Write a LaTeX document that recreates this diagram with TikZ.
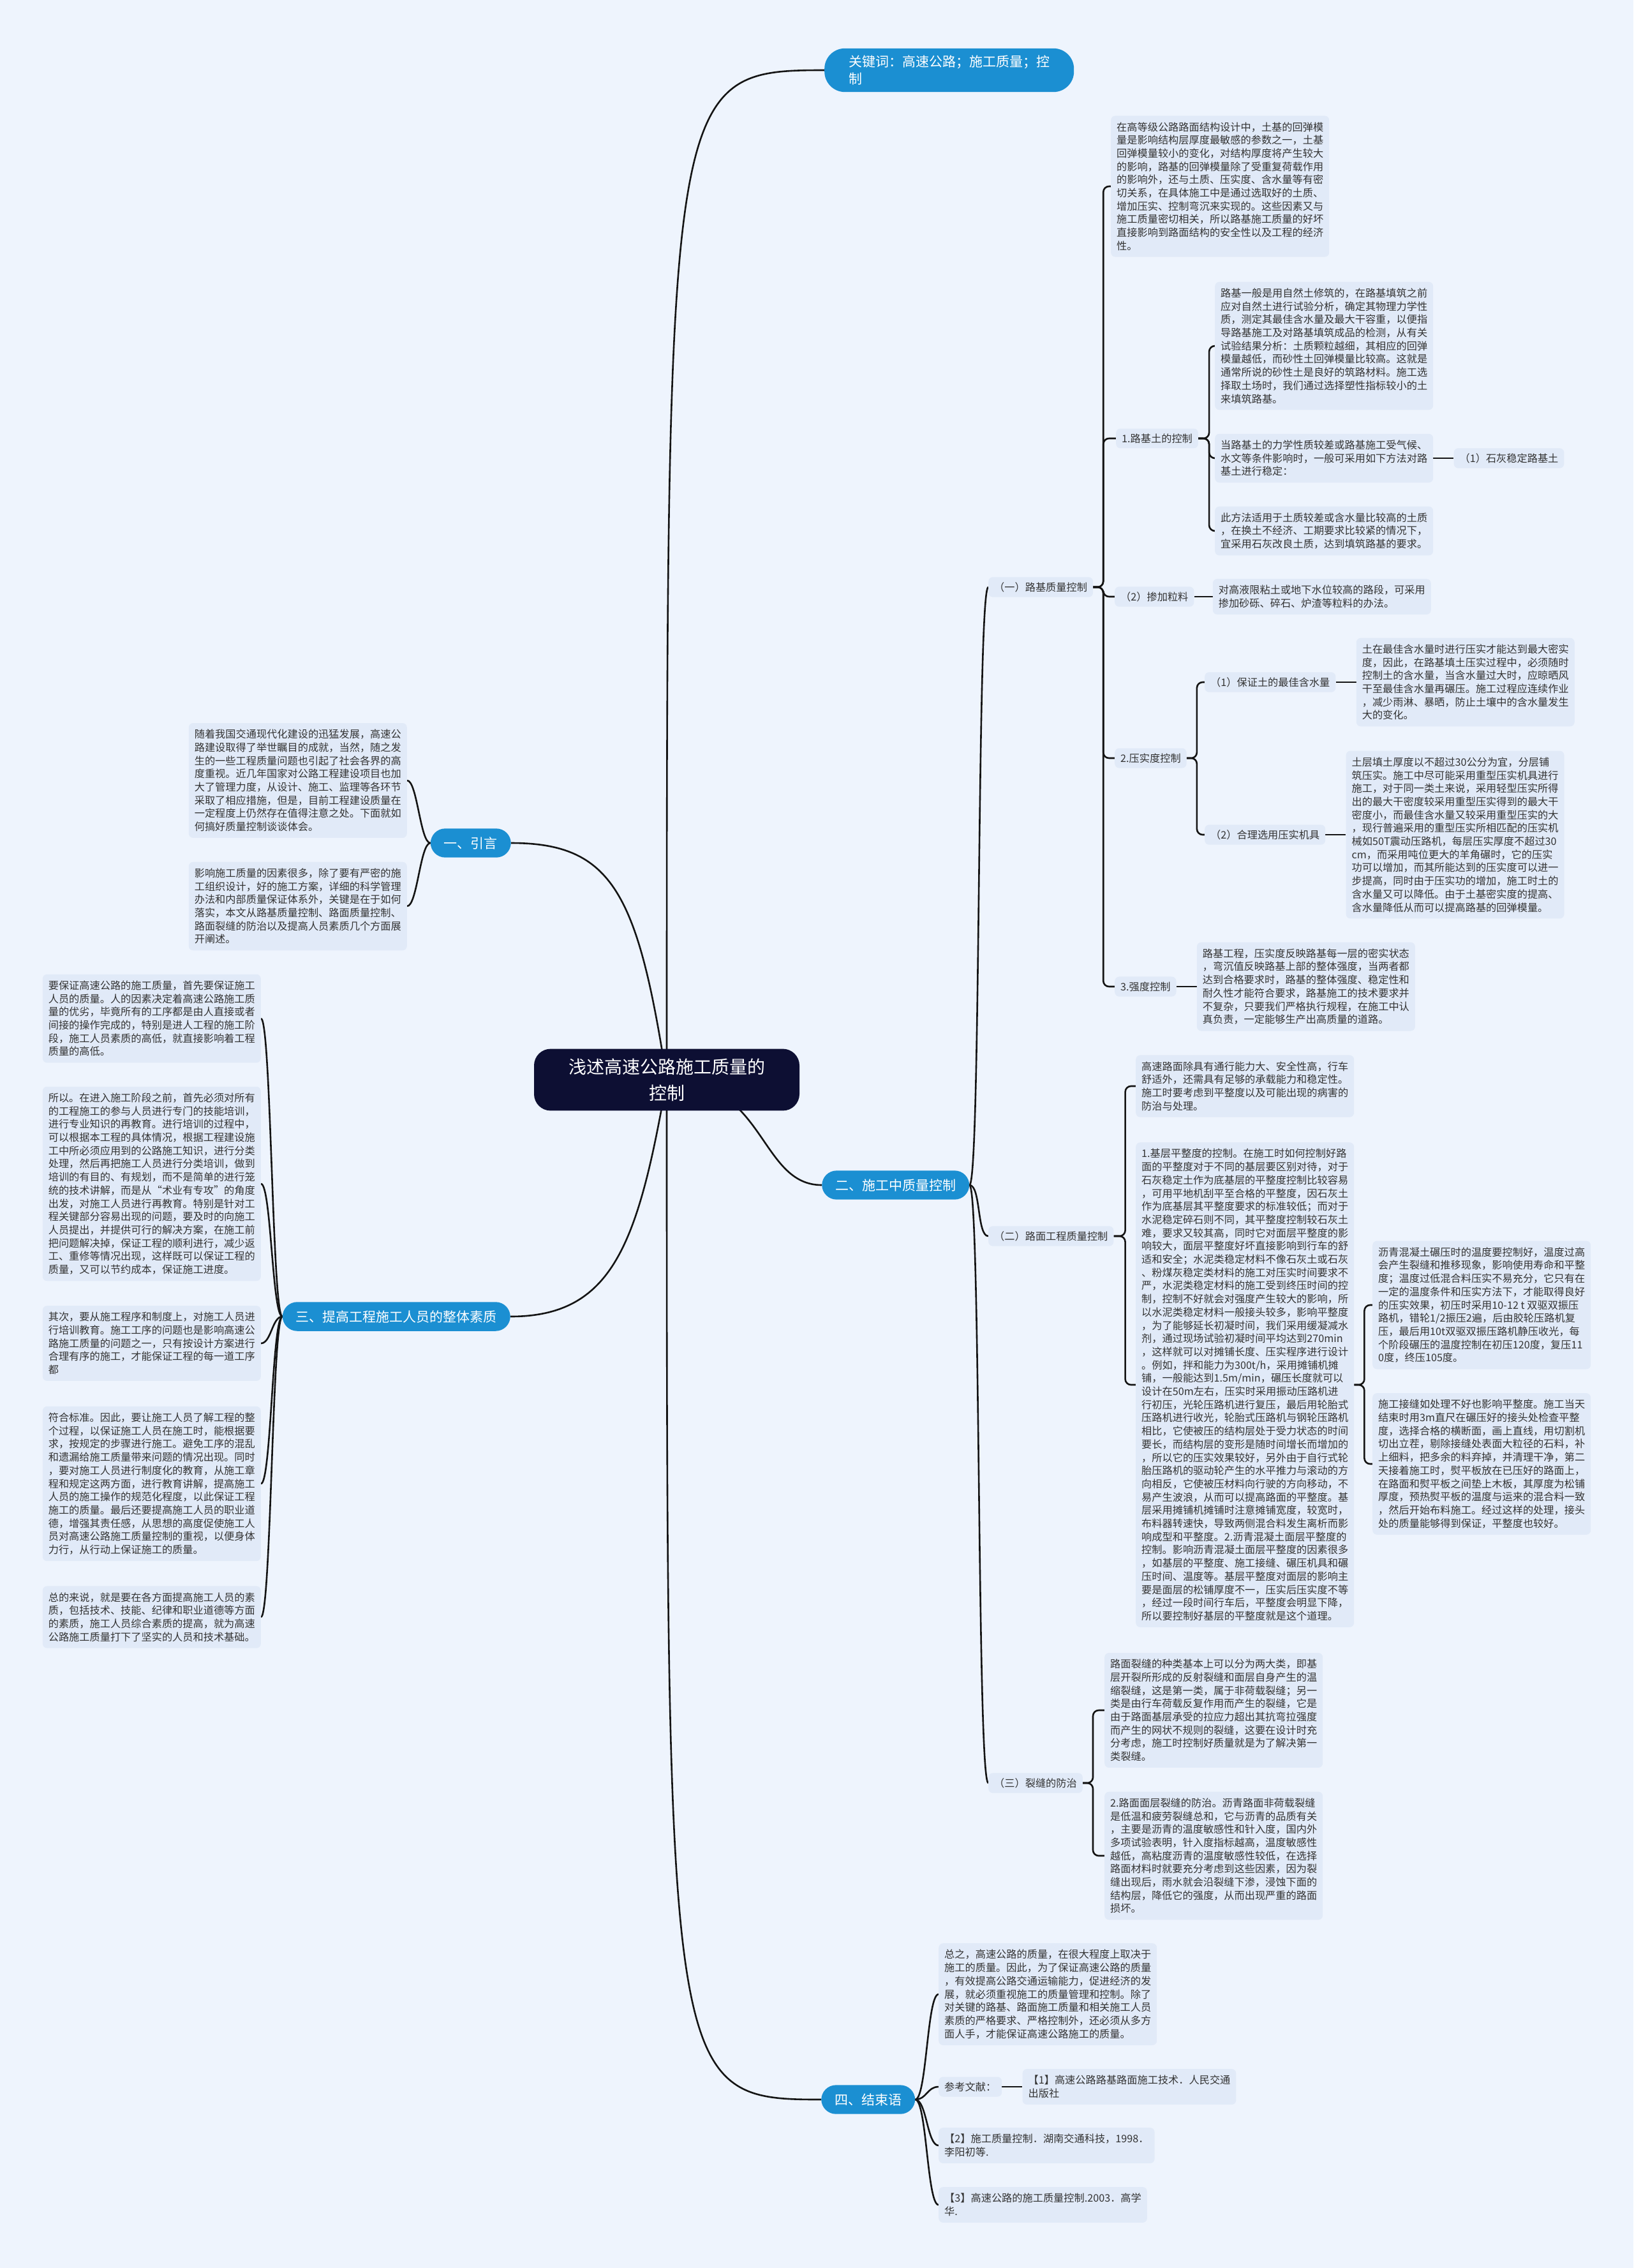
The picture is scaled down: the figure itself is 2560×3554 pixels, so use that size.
\documentclass[tikz,border=0pt]{standalone}
\usepackage{fontspec}
\setmainfont{Noto Sans CJK SC}
\usepackage{tikz}
\usetikzlibrary{positioning,calc,backgrounds}
\definecolor{paper}{HTML}{EEF4FD}
\definecolor{card}{HTML}{E1EAF8}
\definecolor{sky}{HTML}{1B8FD2}
\definecolor{navy}{HTML}{0D0F33}
\definecolor{ink}{HTML}{333333}
\definecolor{coal}{HTML}{141414}
\newcommand\cardsize{\fontsize{16.2}{20.7}\selectfont}
\newcommand\pillsize{\fontsize{21}{27}\selectfont}
\newcommand\hubsize{\fontsize{28}{41}\selectfont}
\tikzset{
  card/.style={fill=card,rounded corners=7pt,inner xsep=9pt,inner ysep=10pt,align=left,text=ink,font=\cardsize},
  tag/.style={card,inner ysep=8pt},
  pill/.style={fill=sky,text=white,rounded corners=23pt,inner xsep=21pt,inner ysep=13pt,align=left,font=\pillsize},
  hub/.style={fill=navy,text=white,rounded corners=26pt,inner xsep=54pt,inner ysep=15pt,align=center,font=\hubsize},
  wire/.style={draw=coal,line width=2.6pt},
  elbow/.style={wire,rounded corners=9pt},
  branch/.style={to path={.. controls +(18,0) and +(-18,0) .. (\tikztotarget)}},
  lbranch/.style={to path={.. controls +(-16,0) and +(16,0) .. (\tikztotarget)}},
}

\begin{document}
\begin{tikzpicture}[x=1pt,y=-1pt,node distance=32pt]
  \useasboundingbox (0,0) rectangle (2560,3554);

  % centre and main branches
  \node[hub] (root) at (1045,1692) {浅述高速公路施工质量的\\控制};
  \node[pill,anchor=west,inner xsep=38pt,inner ysep=11pt,rounded corners=32pt] (kw) at (1292,110) {关键词：高速公路；施工质量；控\\制};
  \node[pill,anchor=west] (n2) at (1288,1857) {二、施工中质量控制};
  \node[pill,anchor=west] (n4) at (1287,3290) {四、结束语};
  \node[pill,anchor=east] (n1) at (801,1321) {一、引言};
  \node[pill,anchor=east] (n3) at (800,2063) {三、提高工程施工人员的整体素质};

  % (一) 路基质量控制
  \node[tag,anchor=west] (s1) at (1549,920) {（一）路基质量控制};
  \node[card,anchor=west] (p1) at (1741,292) {在高等级公路路面结构设计中，土基的回弹模\\量是影响结构层厚度最敏感的参数之一，土基\\回弹模量较小的变化，对结构厚度将产生较大\\的影响，路基的回弹模量除了受重复荷载作用\\的影响外，还与土质、压实度、含水量等有密\\切关系，在具体施工中是通过选取好的土质、\\增加压实、控制弯沉来实现的。这些因素又与\\施工质量密切相关，所以路基施工质量的好坏\\直接影响到路面结构的安全性以及工程的经济\\性。};
  \node[tag,anchor=west] (t1) at (1749,687) {1.路基土的控制};
  \node[card,anchor=west] (p2) at (1904,542) {路基一般是用自然土修筑的，在路基填筑之前\\应对自然土进行试验分析，确定其物理力学性\\质，测定其最佳含水量及最大干容重，以便指\\导路基施工及对路基填筑成品的检测，从有关\\试验结果分析：土质颗粒越细，其相应的回弹\\模量越低，而砂性土回弹模量比较高。这就是\\通常所说的砂性土是良好的筑路材料。施工选\\择取土场时，我们通过选择塑性指标较小的土\\来填筑路基。};
  \node[card,anchor=west] (p3) at (1904,718) {当路基土的力学性质较差或路基施工受气候、\\水文等条件影响时，一般可采用如下方法对路\\基土进行稳定：};
  \node[tag,right=of p3] (q1) {（1）石灰稳定路基土};
  \node[card,anchor=west] (p4) at (1904,832) {此方法适用于土质较差或含水量比较高的土质\\，在换土不经济、工期要求比较紧的情况下，\\宜采用石灰改良土质，达到填筑路基的要求。};
  \node[tag,anchor=west] (t2) at (1747,935) {（2）掺加粒料};
  \node[card,right=29pt of t2] (p5) {对高液限粘土或地下水位较高的路段，可采用\\掺加砂砾、碎石、炉渣等粒料的办法。};
  \node[tag,anchor=west] (t3) at (1747,1188) {2.压实度控制};
  \node[tag,anchor=west] (u1) at (1888,1069) {（1）保证土的最佳含水量};
  \node[card,right=of u1] (p6) {土在最佳含水量时进行压实才能达到最大密实\\度，因此，在路基填土压实过程中，必须随时\\控制土的含水量，当含水量过大时，应晾晒风\\干至最佳含水量再碾压。施工过程应连续作业\\，减少雨淋、暴晒，防止土壤中的含水量发生\\大的变化。};
  \node[tag,anchor=west] (u2) at (1888,1308) {（2）合理选用压实机具};
  \node[card,right=of u2] (p7) {土层填土厚度以不超过30公分为宜，分层铺\\筑压实。施工中尽可能采用重型压实机具进行\\施工，对于同一类土来说，采用轻型压实所得\\出的最大干密度较采用重型压实得到的最大干\\密度小，而最佳含水量又较采用重型压实的大\\，现行普遍采用的重型压实所相匹配的压实机\\械如50T震动压路机，每层压实厚度不超过30\\cm，而采用吨位更大的羊角碾时，它的压实\\功可以增加，而其所能达到的压实度可以进一\\步提高，同时由于压实功的增加，施工时土的\\含水量又可以降低。由于土基密实度的提高、\\含水量降低从而可以提高路基的回弹模量。};
  \node[tag,anchor=west] (t4) at (1747,1546) {3.强度控制};
  \node[card,right=of t4] (p8) {路基工程，压实度反映路基每一层的密实状态\\，弯沉值反映路基上部的整体强度，当两者都\\达到合格要求时，路基的整体强度、稳定性和\\耐久性才能符合要求，路基施工的技术要求并\\不复杂，只要我们严格执行规程，在施工中认\\真负责，一定能够生产出高质量的道路。};

  % (二) 路面工程质量控制
  \node[tag,anchor=west] (s2) at (1549,1937) {（二）路面工程质量控制};
  \node[card,anchor=west] (p9) at (1780,1702) {高速路面除具有通行能力大、安全性高，行车\\舒适外，还需具有足够的承载能力和稳定性。\\施工时要考虑到平整度以及可能出现的病害的\\防治与处理。};
  \node[card,anchor=west] (p10) at (1780,2170) {1.基层平整度的控制。在施工时如何控制好路\\面的平整度对于不同的基层要区别对待，对于\\石灰稳定土作为底基层的平整度控制比较容易\\，可用平地机刮平至合格的平整度，因石灰土\\作为底基层其平整度要求的标准较低；而对于\\水泥稳定碎石则不同，其平整度控制较石灰土\\难，要求又较其高，同时它对面层平整度的影\\响较大，面层平整度好坏直接影响到行车的舒\\适和安全；水泥类稳定材料不像石灰土或石灰\\、粉煤灰稳定类材料的施工对压实时间要求不\\严，水泥类稳定材料的施工受到终压时间的控\\制，控制不好就会对强度产生较大的影响，所\\以水泥类稳定材料一般接头较多，影响平整度\\，为了能够延长初凝时间，我们采用缓凝减水\\剂，通过现场试验初凝时间平均达到270min\\，这样就可以对摊铺长度、压实程序进行设计\\。例如，拌和能力为300t/h，采用摊铺机摊\\铺，一般能达到1.5m/min，碾压长度就可以\\设计在50m左右，压实时采用振动压路机进\\行初压，光轮压路机进行复压，最后用轮胎式\\压路机进行收光，轮胎式压路机与钢轮压路机\\相比，它使被压的结构层处于受力状态的时间\\要长，而结构层的变形是随时间增长而增加的\\，所以它的压实效果较好，另外由于自行式轮\\胎压路机的驱动轮产生的水平推力与滚动的方\\向相反，它使被压材料向行驶的方向移动，不\\易产生波浪，从而可以提高路面的平整度。基\\层采用摊铺机摊铺时注意摊铺宽度，较宽时，\\布料器转速快，导致两侧混合料发生离析而影\\响成型和平整度。2.沥青混凝土面层平整度的\\控制。影响沥青混凝土面层平整度的因素很多\\，如基层的平整度、施工接缝、碾压机具和碾\\压时间、温度等。基层平整度对面层的影响主\\要是面层的松铺厚度不一，压实后压实度不等\\，经过一段时间行车后，平整度会明显下降，\\所以要控制好基层的平整度就是这个道理。};
  \node[card,anchor=west] (p11) at (2151,2045) {沥青混凝土碾压时的温度要控制好，温度过高\\会产生裂缝和推移现象，影响使用寿命和平整\\度；温度过低混合料压实不易充分，它只有在\\一定的温度条件和压实方法下，才能取得良好\\的压实效果，初压时采用10-12 t 双驱双振压\\路机，错轮1/2振压2遍，后由胶轮压路机复\\压，最后用10t双驱双振压路机静压收光，每\\个阶段碾压的温度控制在初压120度，复压11\\0度，终压105度。};
  \node[card,anchor=west] (p12) at (2151,2294) {施工接缝如处理不好也影响平整度。施工当天\\结束时用3m直尺在碾压好的接头处检查平整\\度，选择合格的横断面，画上直线，用切割机\\切出立茬，剔除接缝处表面大粒径的石料，补\\上细料，把多余的料弃掉，并清理干净，第二\\天接着施工时，熨平板放在已压好的路面上，\\在路面和熨平板之间垫上木板，其厚度为松铺\\厚度，预热熨平板的温度与运来的混合料一致\\，然后开始布料施工。经过这样的处理，接头\\处的质量能够得到保证，平整度也较好。};

  % (三) 裂缝的防治
  \node[tag,anchor=west] (s3) at (1549,2794) {（三）裂缝的防治};
  \node[card,anchor=west] (p13) at (1731,2680) {路面裂缝的种类基本上可以分为两大类，即基\\层开裂所形成的反射裂缝和面层自身产生的温\\缩裂缝，这是第一类，属于非荷载裂缝；另一\\类是由行车荷载反复作用而产生的裂缝，它是\\由于路面基层承受的拉应力超出其抗弯拉强度\\而产生的网状不规则的裂缝，这要在设计时充\\分考虑，施工时控制好质量就是为了解决第一\\类裂缝。};
  \node[card,anchor=west] (p14) at (1731,2908) {2.路面面层裂缝的防治。沥青路面非荷载裂缝\\是低温和疲劳裂缝总和，它与沥青的品质有关\\，主要是沥青的温度敏感性和针入度，国内外\\多项试验表明，针入度指标越高，温度敏感性\\越低，高粘度沥青的温度敏感性较低，在选择\\路面材料时就要充分考虑到这些因素，因为裂\\缝出现后，雨水就会沿裂缝下渗，浸蚀下面的\\结构层，降低它的强度，从而出现严重的路面\\损坏。};

  % 四、结束语
  \node[card,anchor=west] (p15) at (1471,3125) {总之，高速公路的质量，在很大程度上取决于\\施工的质量。因此，为了保证高速公路的质量\\，有效提高公路交通运输能力，促进经济的发\\展，就必须重视施工的质量管理和控制。除了\\对关键的路基、路面施工质量和相关施工人员\\素质的严格要求、严格控制外，还必须从多方\\面人手，才能保证高速公路施工的质量。};
  \node[tag,anchor=west] (r0) at (1471,3270) {参考文献：};
  \node[card,right=of r0] (r1) {【1】高速公路路基路面施工技术．人民交通\\出版社};
  \node[card,anchor=west] (r2) at (1471,3362) {【2】施工质量控制．湖南交通科技，1998．\\李阳初等.};
  \node[card,anchor=west] (r3) at (1471,3455) {【3】高速公路的施工质量控制.2003．高学\\华.};

  % 一、引言
  \node[card,anchor=east] (p16) at (638,1223) {随着我国交通现代化建设的迅猛发展，高速公\\路建设取得了举世瞩目的成就，当然，随之发\\生的一些工程质量问题也引起了社会各界的高\\度重视。近几年国家对公路工程建设项目也加\\大了管理力度，从设计、施工、监理等各环节\\采取了相应措施，但是，目前工程建设质量在\\一定程度上仍然存在值得注意之处。下面就如\\何搞好质量控制谈谈体会。};
  \node[card,anchor=east] (p17) at (638,1420) {影响施工质量的因素很多，除了要有严密的施\\工组织设计，好的施工方案，详细的科学管理\\办法和内部质量保证体系外，关键是在于如何\\落实，本文从路基质量控制、路面质量控制、\\路面裂缝的防治以及提高人员素质几个方面展\\开阐述。};

  % 三、提高工程施工人员的整体素质
  \node[card,anchor=east] (p18) at (409,1596) {要保证高速公路的施工质量，首先要保证施工\\人员的质量。人的因素决定着高速公路施工质\\量的优劣，毕竟所有的工序都是由人直接或者\\间接的操作完成的，特别是进人工程的施工阶\\段，施工人员素质的高低，就直接影响着工程\\质量的高低。};
  \node[card,anchor=east] (p19) at (409,1855) {所以。在进入施工阶段之前，首先必须对所有\\的工程施工的参与人员进行专门的技能培训，\\进行专业知识的再教育。进行培训的过程中，\\可以根据本工程的具体情况，根据工程建设施\\工中所必须应用到的公路施工知识，进行分类\\处理，然后再把施工人员进行分类培训，做到\\培训的有目的、有规划，而不是简单的进行笼\\统的技术讲解，而是从“术业有专攻”的角度\\出发，对施工人员进行再教育。特别是针对工\\程关键部分容易出现的问题，要及时的向施工\\人员提出，并提供可行的解决方案，在施工前\\把问题解决掉，保证工程的顺利进行，减少返\\工、重修等情况出现，这样既可以保证工程的\\质量，又可以节约成本，保证施工进度。};
  \node[card,anchor=east] (p20) at (409,2105) {其次，要从施工程序和制度上，对施工人员进\\行培训教育。施工工序的问题也是影响高速公\\路施工质量的问题之一，只有按设计方案进行\\合理有序的施工，才能保证工程的每一道工序\\都};
  \node[card,anchor=east] (p21) at (409,2325) {符合标准。因此，要让施工人员了解工程的整\\个过程，以保证施工人员在施工时，能根据要\\求，按规定的步骤进行施工。避免工序的混乱\\和遗漏给施工质量带来问题的情况出现。同时\\，要对施工人员进行制度化的教育，从施工章\\程和规定这两方面，进行教育讲解，提高施工\\人员的施工操作的规范化程度，以此保证工程\\施工的质量。最后还要提高施工人员的职业道\\德，增强其责任感，从思想的高度促使施工人\\员对高速公路施工质量控制的重视，以便身体\\力行，从行动上保证施工的质量。};
  \node[card,anchor=east] (p22) at (409,2534) {总的来说，就是要在各方面提高施工人员的素\\质，包括技术、技能、纪律和职业道德等方面\\的素质，施工人员综合素质的提高，就为高速\\公路施工质量打下了坚实的人员和技术基础。};

  \begin{scope}[on background layer]
    \fill[paper] (0,0) rectangle (2560,3554);
    % from the centre
    \draw[wire] (root.center) .. controls (1045,130) and (1045,110) .. (kw.west);
    \draw[wire] (root.center) .. controls (1200,1692) and (1190,1857) .. (n2.west);
    \draw[wire] (root.center) .. controls (1045,3270) and (1045,3290) .. (n4.west);
    \draw[wire] (root.center) .. controls (1000,1400) and (960,1321) .. (n1.east);
    \draw[wire] (root.center) .. controls (1000,1950) and (960,2063) .. (n3.east);
    % second level
    \foreach \c in {s1,s2,s3} \draw[wire] (n2.east) to[branch] (\c.west);
    \foreach \c in {p15,r0,r2,r3} \draw[wire] (n4.east) to[branch] (\c.west);
    \foreach \c in {p16,p17} \draw[wire] (n1.west) to[lbranch] (\c.east);
    \foreach \c in {p18,p19,p20,p21,p22} \draw[wire] (n3.west) to[lbranch] (\c.east);
    % deeper levels
    \foreach \c in {p1,t1,t2,t3,t4} \draw[elbow] (s1.east) -- ++(16,0) |- (\c.west);
    \foreach \c in {p2,p3,p4} \draw[elbow] (t1.east) -- ++(17,0) |- (\c.west);
    \foreach \c in {u1,u2} \draw[elbow] (t3.east) -- ++(16,0) |- (\c.west);
    \foreach \c in {p9,p10} \draw[elbow] (s2.east) -- ++(18,0) |- (\c.west);
    \foreach \c in {p11,p12} \draw[elbow] (p10.east) -- ++(16,0) |- (\c.west);
    \foreach \c in {p13,p14} \draw[elbow] (s3.east) -- ++(16,0) |- (\c.west);
    \draw[wire] (p3) -- (q1);
    \draw[wire] (t2) -- (p5);
    \draw[wire] (u1) -- (p6);
    \draw[wire] (u2) -- (p7);
    \draw[wire] (t4) -- (p8);
    \draw[wire] (r0) -- (r1);
  \end{scope}
\end{tikzpicture}
\end{document}
